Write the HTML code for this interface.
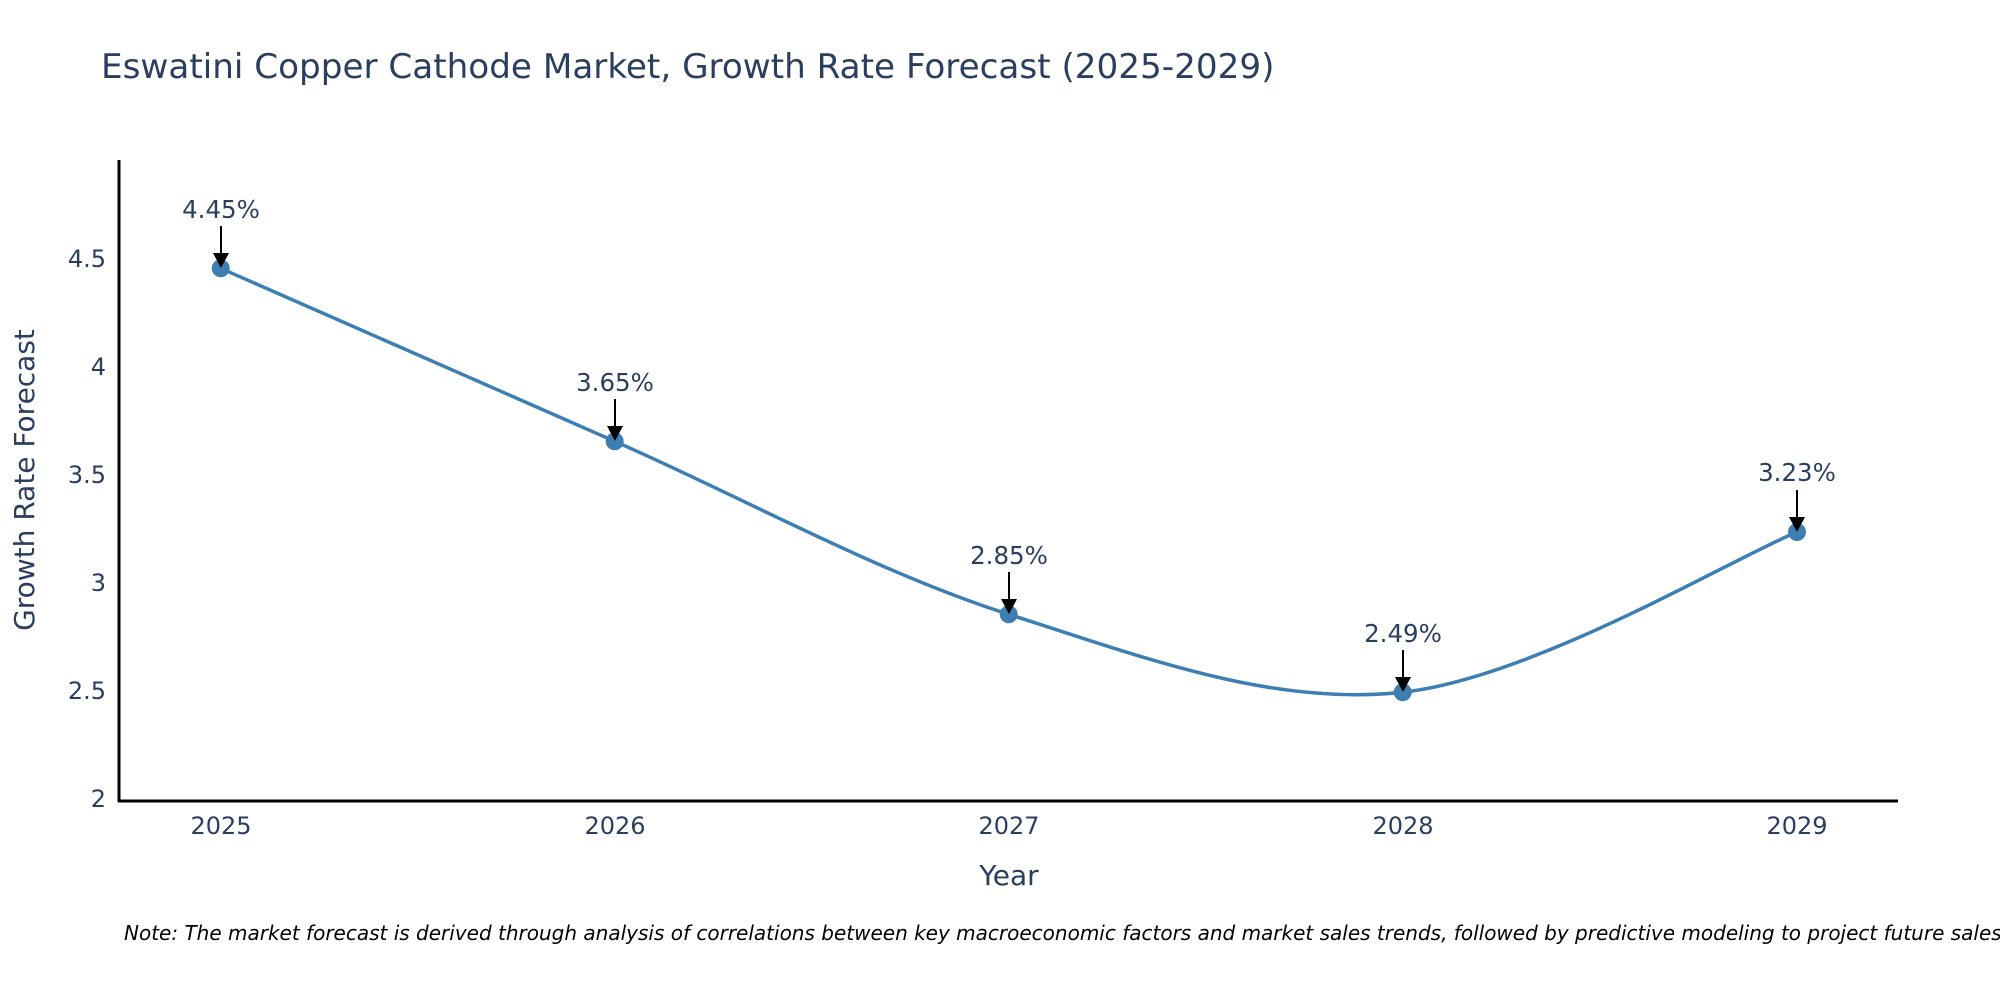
<!DOCTYPE html>
<html><head><meta charset="utf-8"><style>body{margin:0;background:#fff}svg{display:block}</style></head><body>
<svg width="2000" height="1000" xmlns="http://www.w3.org/2000/svg" font-family="'DejaVu Sans',sans-serif">
<rect width="2000" height="1000" fill="#fff"/>
<text x="101" y="78" font-size="34.2" fill="#2a3f5f">Eswatini Copper Cathode Market, Growth Rate Forecast (2025-2029)</text>
<line x1="119" y1="160" x2="119" y2="802" stroke="#000" stroke-width="3"/>
<line x1="118" y1="801" x2="1898" y2="801" stroke="#000" stroke-width="3"/>
<g font-size="24" fill="#2a3f5f" text-anchor="end">
<text x="106" y="807">2</text><text x="106" y="699">2.5</text><text x="106" y="591">3</text><text x="106" y="483">3.5</text><text x="106" y="375">4</text><text x="106" y="267">4.5</text>
</g>
<g font-size="24" fill="#2a3f5f" text-anchor="middle">
<text x="221" y="834">2025</text><text x="615" y="834">2026</text><text x="1009" y="834">2027</text><text x="1403" y="834">2028</text><text x="1797" y="834">2029</text>
</g>
<text x="1009" y="885" font-size="28" fill="#2a3f5f" text-anchor="middle">Year</text>
<text transform="translate(34,480) rotate(-90)" font-size="28" fill="#2a3f5f" text-anchor="middle">Growth Rate Forecast</text>
<path d="M220.7,268.3 C286.4,297.1 483.4,383.6 614.7,441.3 C746,499 877.4,572.5 1008.7,614.3 C1140,656.1 1271.3,706.8 1402.7,692.2 C1534.1,677.6 1731.3,559 1797,532" fill="none" stroke="#3d7fb3" stroke-width="3.5"/>
<g fill="#3d7fb3">
<circle cx="220.7" cy="268.3" r="9"/><circle cx="614.7" cy="441.3" r="9"/><circle cx="1008.7" cy="614.3" r="9"/><circle cx="1402.7" cy="692.2" r="9"/><circle cx="1797" cy="532" r="9"/>
</g>
<g stroke="#000" stroke-width="2">
<line x1="221" y1="226" x2="221" y2="255"/><line x1="615" y1="399" x2="615" y2="428"/><line x1="1009" y1="572" x2="1009" y2="601"/><line x1="1403" y1="650" x2="1403" y2="679"/><line x1="1797" y1="490" x2="1797" y2="519"/>
</g>
<g fill="#000">
<path d="M213,253 L229,253 L221,268 Z"/><path d="M607,426 L623,426 L615,441 Z"/><path d="M1001,599 L1017,599 L1009,614 Z"/><path d="M1395,677 L1411,677 L1403,692 Z"/><path d="M1789,517 L1805,517 L1797,532 Z"/>
</g>
<g font-size="24.5" fill="#2a3f5f" text-anchor="middle">
<text x="221" y="218">4.45%</text><text x="615" y="391">3.65%</text><text x="1009" y="564">2.85%</text><text x="1403" y="642">2.49%</text><text x="1797" y="481">3.23%</text>
</g>
<text x="124" y="940" font-size="20" font-style="italic" fill="#000">Note: The market forecast is derived through analysis of correlations between key macroeconomic factors and market sales trends, followed by predictive modeling to project future sales.</text>
</svg>
</body></html>
